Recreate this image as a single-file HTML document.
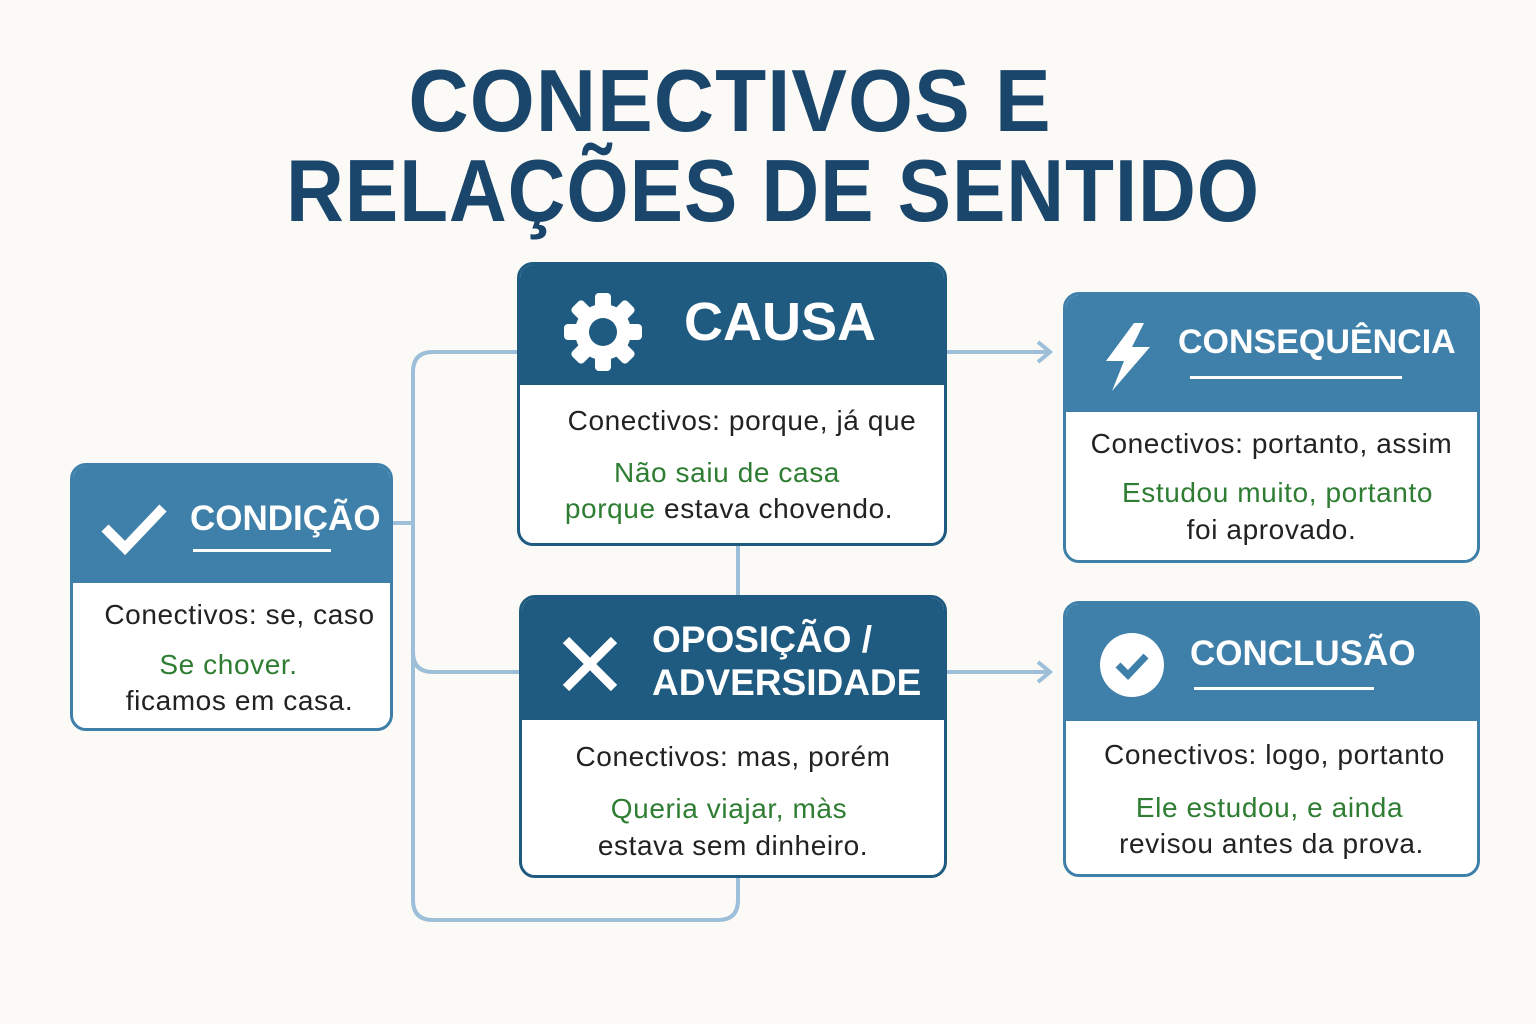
<!DOCTYPE html>
<html><head><meta charset="utf-8"><style>
body{margin:0;width:1536px;height:1024px;background:#fbfaf6;position:relative;overflow:hidden;font-family:"Liberation Sans",sans-serif}
.t{position:absolute;left:0;width:1536px;text-align:center;color:#1a466b;font-weight:bold;font-size:88px;letter-spacing:1px}
.box{position:absolute;border:3px solid #1f5b80;border-radius:16px;background:#fff;overflow:hidden;box-sizing:border-box}
.hd{position:absolute;left:0;top:0;right:0;color:#fff;font-weight:bold}
.dk{background:#1f5b80}.lt{background:#3e80aa}
.tx{position:absolute;left:0;right:0;text-align:center;font-size:28px;letter-spacing:0.6px;color:#222;line-height:37px;white-space:nowrap}
.g{color:#2e7d32}
.ul{position:absolute;height:3px;background:#fff}
</style></head><body>
<div class="t" style="top:50px;left:-38px;transform:scaleX(0.95)">CONECTIVOS E</div>
<div class="t" style="top:140px;left:5px;transform:scaleX(0.91)">RELAÇÕES DE SENTIDO</div>

<svg width="1536" height="1024" style="position:absolute;left:0;top:0" fill="none" stroke="#9dbfd9" stroke-width="4">
<path d="M392 523 H413"/>
<path d="M517 352 H433 Q413 352 413 372 V900 Q413 920 433 920 H718 Q738 920 738 900 V877"/>
<path d="M413 652 Q413 672 433 672 H519"/>
<path d="M738 545 V595"/>
<path d="M946 352 H1050 M1038 342 L1050 352 L1038 362"/>
<path d="M946 672 H1050 M1038 662 L1050 672 L1038 682"/>
</svg>

<!-- CAUSA -->
<div class="box" style="left:517px;top:262px;width:430px;height:284px">
<div class="hd dk" style="height:120px"><div style="position:absolute;left:164px;top:26px;font-size:54px">CAUSA</div>
<svg style="position:absolute;left:42px;top:26px" width="82" height="82" viewBox="0 0 82 82"><g fill="#fff"><circle cx="41" cy="41" r="28"/><g><rect x="33" y="2" width="16" height="20" rx="4"/><rect x="33" y="60" width="16" height="20" rx="4"/><rect x="2" y="33" width="20" height="16" rx="4"/><rect x="60" y="33" width="20" height="16" rx="4"/><g transform="rotate(45 41 41)"><rect x="33" y="2" width="16" height="20" rx="4"/><rect x="33" y="60" width="16" height="20" rx="4"/><rect x="2" y="33" width="20" height="16" rx="4"/><rect x="60" y="33" width="20" height="16" rx="4"/></g></g></g><circle cx="41" cy="41" r="14" fill="#1f5b80"/></svg></div>
<div class="tx" style="top:137px;left:20px">Conectivos: porque, já que</div>
<div class="tx" style="top:189px;left:-10px"><span class="g">Não saiu de casa</span></div>
<div class="tx" style="top:225px;left:-6px"><span class="g">porque</span> estava chovendo.</div>
</div>

<!-- CONSEQUENCIA -->
<div class="box" style="left:1063px;top:292px;width:417px;height:271px;border-color:#3e80aa">
<div class="hd lt" style="height:117px"><div style="position:absolute;left:112px;top:28px;font-size:34px">CONSEQUÊNCIA</div><div class="ul" style="left:124px;top:81px;width:212px"></div>
<svg style="position:absolute;left:34px;top:26px" width="56" height="72" viewBox="0 0 56 72"><path d="M34 2 L6 40 H24 L12 70 L50 26 H32 L44 2Z" fill="#fff"/></svg></div>
<div class="tx" style="top:130px">Conectivos: portanto, assim</div>
<div class="tx" style="top:179px;left:12px"><span class="g">Estudou muito, portanto</span></div>
<div class="tx" style="top:216px">foi aprovado.</div>
</div>

<!-- CONDICAO -->
<div class="box" style="left:70px;top:463px;width:323px;height:268px;border-color:#3e80aa">
<div class="hd lt" style="height:117px"><div style="position:absolute;left:117px;top:33px;font-size:35px">CONDIÇÃO</div><div class="ul" style="left:120px;top:83px;width:138px"></div>
<svg style="position:absolute;left:26px;top:34px" width="70" height="56"><path d="M6 28 L26 48 L64 8" stroke="#fff" stroke-width="10" fill="none"/></svg></div>
<div class="tx" style="top:130px;left:16px">Conectivos: se, caso</div>
<div class="tx" style="top:180px;left:-6px"><span class="g">Se chover.</span></div>
<div class="tx" style="top:216px;left:16px">ficamos em casa.</div>
</div>

<!-- OPOSICAO -->
<div class="box" style="left:519px;top:595px;width:428px;height:283px">
<div class="hd dk" style="height:122px"><div style="position:absolute;left:130px;top:20px;font-size:37px;line-height:43px">OPOSIÇÃO /<br>ADVERSIDADE</div>
<svg style="position:absolute;left:38px;top:36px" width="60" height="60"><path d="M6 6 L54 54 M54 6 L6 54" stroke="#fff" stroke-width="9"/></svg></div>
<div class="tx" style="top:140px">Conectivos: mas, porém</div>
<div class="tx" style="top:192px;left:-8px"><span class="g">Queria viajar, màs</span></div>
<div class="tx" style="top:229px">estava sem dinheiro.</div>
</div>

<!-- CONCLUSAO -->
<div class="box" style="left:1063px;top:601px;width:417px;height:276px;border-color:#3e80aa">
<div class="hd lt" style="height:117px"><div style="position:absolute;left:124px;top:30px;font-size:35px">CONCLUSÃO</div><div class="ul" style="left:128px;top:83px;width:180px"></div>
<svg style="position:absolute;left:33px;top:28px" width="66" height="66"><circle cx="33" cy="33" r="32" fill="#fff"/><path d="M19 33 L29 43 L47 24" stroke="#3e80aa" stroke-width="7" fill="none"/></svg></div>
<div class="tx" style="top:132px;left:6px">Conectivos: logo, portanto</div>
<div class="tx" style="top:185px;left:-4px"><span class="g">Ele estudou, e ainda</span></div>
<div class="tx" style="top:221px">revisou antes da prova.</div>
</div>
</body></html>
